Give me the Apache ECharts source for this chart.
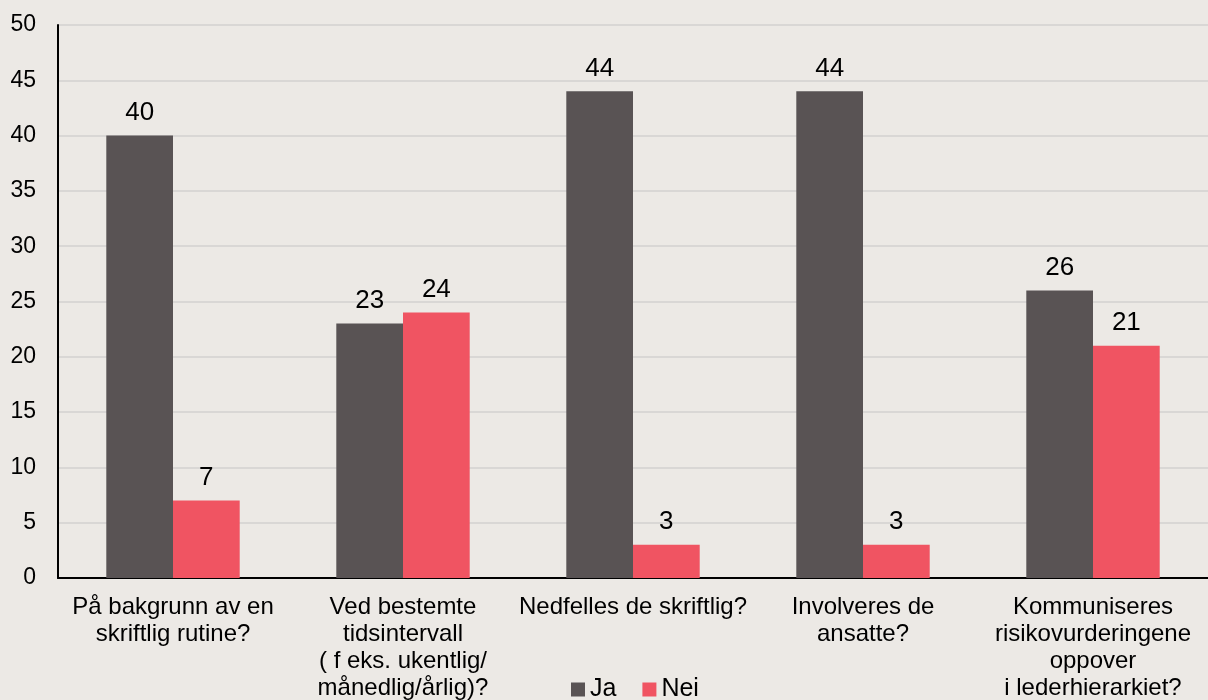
<!DOCTYPE html>
<html>
<head>
<meta charset="utf-8">
<script src="https://cdn.jsdelivr.net/npm/echarts@6/dist/echarts.min.js"></script>
<style>
  html, body { margin: 0; padding: 0; background: #ece9e5; }
  #main { width: 1208px; height: 700px; }
</style>
</head>
<body>
<div id="main"></div>
<script>
// kategorier og verdier
const categories = [
    'På bakgrunn av en\nskriftlig rutine?',
    'Ved bestemte\ntidsintervall\n( f eks. ukentlig/\nmånedlig/årlig)?',
    'Nedfelles de skriftlig?',
    'Involveres de\nansatte?',
    'Kommuniseres\nrisikovurderingene\noppover\ni lederhierarkiet?'
];
const ja = [40, 23, 44, 44, 26];
const nei = [7, 24, 3, 3, 21];
const yTicks = { min: 0, max: 50, interval: 5 };

const font = 'Liberation Sans, Arial, sans-serif';

let myChart = echarts.init(document.getElementById('main'));
myChart.setOption({
    backgroundColor: '#ece9e5',
    animation: false,
    grid: { left: 58, right: 0, top: 25, bottom: 122, outerBoundsMode: 'none' },
    legend: {
        data: ['Ja', 'Nei'],
        top: 677,
        left: 571,
        padding: 0,
        itemWidth: 14,
        itemHeight: 14,
        itemGap: 26,
        textStyle: { fontFamily: font, fontSize: 25, color: '#000' },
        icon: 'rect'
    },
    xAxis: {
        type: 'category',
        data: categories,
        axisLine: { lineStyle: { color: '#000', width: 2 } },
        axisTick: { show: false },
        axisLabel: {
            interval: 0,
            margin: 16,
            fontFamily: font,
            fontSize: 24,
            lineHeight: 27,
            color: '#000'
        }
    },
    yAxis: {
        type: 'value',
        min: yTicks.min,
        max: yTicks.max,
        interval: yTicks.interval,
        axisLine: { show: true, lineStyle: { color: '#000', width: 2 } },
        axisTick: { show: false },
        splitLine: { lineStyle: { color: '#d9d7d5', width: 2 } },
        axisLabel: { fontFamily: font, fontSize: 23, color: '#000', margin: 22 }
    },
    series: [
        {
            name: 'Ja',
            type: 'bar',
            data: ja,
            barWidth: '29%',
            barGap: '0%',
            itemStyle: { color: '#595354' },
            label: { show: true, position: 'top', distance: 10, fontFamily: font, fontSize: 26, color: '#000' }
        },
        {
            name: 'Nei',
            type: 'bar',
            data: nei,
            barWidth: '29%',
            itemStyle: { color: '#f05462' },
            label: { show: true, position: 'top', distance: 10, fontFamily: font, fontSize: 26, color: '#000' }
        }
    ]
});
</script>
</body>
</html>
